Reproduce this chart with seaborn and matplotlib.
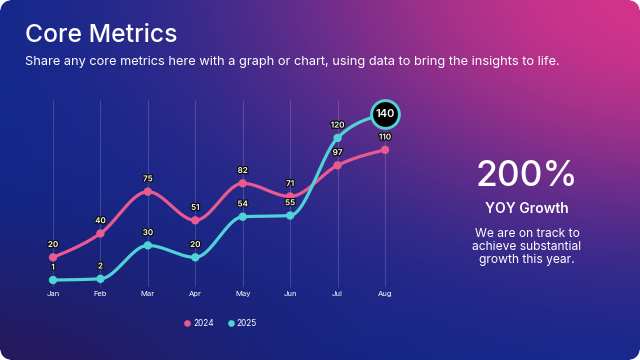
import numpy as np
import pandas as pd
import matplotlib
matplotlib.use("Agg")
import matplotlib.pyplot as plt
import matplotlib.patheffects as pe
from matplotlib.lines import Line2D
import seaborn as sns

months = ["Jan", "Feb", "Mar", "Apr", "May", "Jun", "Jul", "Aug"]
values_2024 = [20, 40, 75, 51, 82, 71, 97, 110]
values_2025 = [1, 2, 30, 20, 54, 55, 120, 140]
series_names = ["2024", "2025"]
colors = {"2024": "#ea5a90", "2025": "#4fd3d6"}

title = "Core Metrics"
subtitle = "Share any core metrics here with a graph or chart, using data to bring the insights to life."
kpi_value = "200%"
kpi_label = "YOY Growth"
kpi_text = "We are on track to\nachieve substantial\ngrowth this year."

sns.set_theme(style="white")
plt.rcParams["font.family"] = ["Inter", "DejaVu Sans"]

W, H = 640, 360
fig = plt.figure(figsize=(6.4, 3.6), dpi=100, facecolor="white")

# ---- background gradient ----
yy, xx = np.mgrid[0:H, 0:W].astype(float)
base = np.array([15, 40, 140], float)
mag = np.array([214, 52, 138], float)
dark = np.array([42, 24, 88], float)
wm = np.exp(-(((xx - 690) / 420) ** 2 + ((yy + 20) / 240) ** 2) ** 1.2)
wd = np.exp(-(((xx + 40) / 300) ** 2 + ((yy - 400) / 150) ** 2))
img = base[None, None, :] * (1 - wm[..., None]) + mag[None, None, :] * wm[..., None]
img = img * (1 - wd[..., None]) + dark[None, None, :] * wd[..., None]
img = np.clip(img / 255.0, 0, 1)
alpha = np.ones((H, W))
r = 10
for cx, cy in [(r, r), (W - r - 1, r), (r, H - r - 1), (W - r - 1, H - r - 1)]:
    qx = (xx < r) if cx == r else (xx > W - r - 1)
    qy = (yy < r) if cy == r else (yy > H - r - 1)
    d = np.sqrt((xx - cx) ** 2 + (yy - cy) ** 2)
    mask = qx & qy
    alpha[mask] = np.clip(r + 0.5 - d[mask], 0, 1)
rgba = np.dstack([img, alpha])
bg = fig.add_axes([0, 0, 1, 1])
bg.imshow(rgba, extent=[0, W, H, 0], aspect="auto", interpolation="bilinear")
bg.set_xlim(0, W)
bg.set_ylim(H, 0)
bg.axis("off")


def monotone(x, y, n=40):
    x = np.asarray(x, float)
    y = np.asarray(y, float)
    m = len(x)
    h = np.diff(x)
    s = np.diff(y) / h
    t = np.zeros(m)
    for i in range(1, m - 1):
        s0, s1 = s[i - 1], s[i]
        p = (s0 * h[i] + s1 * h[i - 1]) / (h[i - 1] + h[i])
        t[i] = (np.sign(s0) + np.sign(s1)) * min(abs(s0), abs(s1), 0.5 * abs(p))
    t[0] = (3 * s[0] - t[1]) / 2
    t[-1] = (3 * s[-1] - t[-2]) / 2
    xs, ys = [], []
    for i in range(m - 1):
        u = np.linspace(0, 1, n, endpoint=(i == m - 2))
        h00 = 2 * u**3 - 3 * u**2 + 1
        h10 = u**3 - 2 * u**2 + u
        h01 = -2 * u**3 + 3 * u**2
        h11 = u**3 - u**2
        xs.append(x[i] + u * h[i])
        ys.append(h00 * y[i] + h10 * h[i] * t[i] + h01 * y[i + 1] + h11 * h[i] * t[i + 1])
    return np.concatenate(xs), np.concatenate(ys)


xpos = np.arange(len(months))
pts = pd.DataFrame({
    "x": np.concatenate([xpos, xpos]),
    "value": values_2024 + values_2025,
    "series": ["2024"] * len(months) + ["2025"] * len(months),
})
curves = []
for name, vals in zip(series_names, [values_2024, values_2025]):
    cx, cy = monotone(xpos, vals)
    curves.append(pd.DataFrame({"x": cx, "value": cy, "series": name}))
curves = pd.concat(curves, ignore_index=True)

ax = fig.add_axes([29.3 / W, (H - 287.2) / H, 379.4 / W, 187.5 / H])
ax.set_facecolor("none")
ax.set_xlim(-0.5, 7.5)
ax.set_ylim(-5, 152)
for xv in xpos:
    ax.axvline(xv, color="white", alpha=0.16, lw=0.8, zorder=0)

sns.lineplot(data=curves, x="x", y="value", hue="series", palette=colors,
             linewidth=2.3, legend=False, ax=ax, sort=False, estimator=None,
             zorder=2)
sns.scatterplot(data=pts, x="x", y="value", hue="series", palette=colors,
                s=36, linewidth=0, legend=False, ax=ax, zorder=3)

stroke = [pe.withStroke(linewidth=1.9, foreground="#111111")]
for name, vals in zip(series_names, [values_2024, values_2025]):
    for i, v in enumerate(vals):
        if name == "2025" and i == len(vals) - 1:
            continue
        ax.annotate(str(v), (xpos[i], v), xytext=(0, 6.0), textcoords="offset points",
                    ha="center", va="bottom", fontsize=5.8, color="white",
                    fontweight="semibold", path_effects=stroke, zorder=5)

ax.plot([xpos[-1]], [values_2025[-1]], marker="o", markersize=20,
        markerfacecolor="black", markeredgecolor=colors["2025"],
        markeredgewidth=2.1, zorder=6, clip_on=False)
ax.text(xpos[-1], values_2025[-1], str(values_2025[-1]), ha="center", va="center",
        fontsize=8, color="white", fontweight="semibold", zorder=7)

ax.set_xticks(xpos)
ax.set_xticklabels(months, color="white", fontsize=5.5)
ax.tick_params(axis="x", length=0, pad=2.5)
ax.set_yticks([])
ax.set_xlabel("")
ax.set_ylabel("")
for sp in ax.spines.values():
    sp.set_visible(False)

handles = [Line2D([], [], marker="o", linestyle="none", markersize=4.8,
                  markerfacecolor=colors[n], markeredgewidth=0) for n in series_names]
fig.legend(handles, series_names, loc="center", bbox_to_anchor=(220 / W, 1 - 323 / H),
           ncol=2, frameon=False, fontsize=6.0, labelcolor="white",
           handletextpad=0.25, columnspacing=1.5, handlelength=1.0)

fig.text(25 / W, 1 - 35 / H, title, color="white", fontsize=17.8,
         fontweight="medium", ha="left", va="center")
fig.text(25 / W, 1 - 62 / H, subtitle, color="white", fontsize=9.2,
         ha="left", va="center")

fig.text(527 / W, 1 - 176 / H, kpi_value, color="white", fontsize=25.5,
         fontweight="medium", ha="center", va="center")
fig.text(527 / W, 1 - 209 / H, kpi_label, color="white", fontsize=10,
         fontweight="semibold", ha="center", va="center")
fig.text(527 / W, 1 - 247 / H, kpi_text, color="white", fontsize=8.7,
         ha="center", va="center", linespacing=1.08)

fig.savefig("out.png", dpi=100, facecolor="white")
